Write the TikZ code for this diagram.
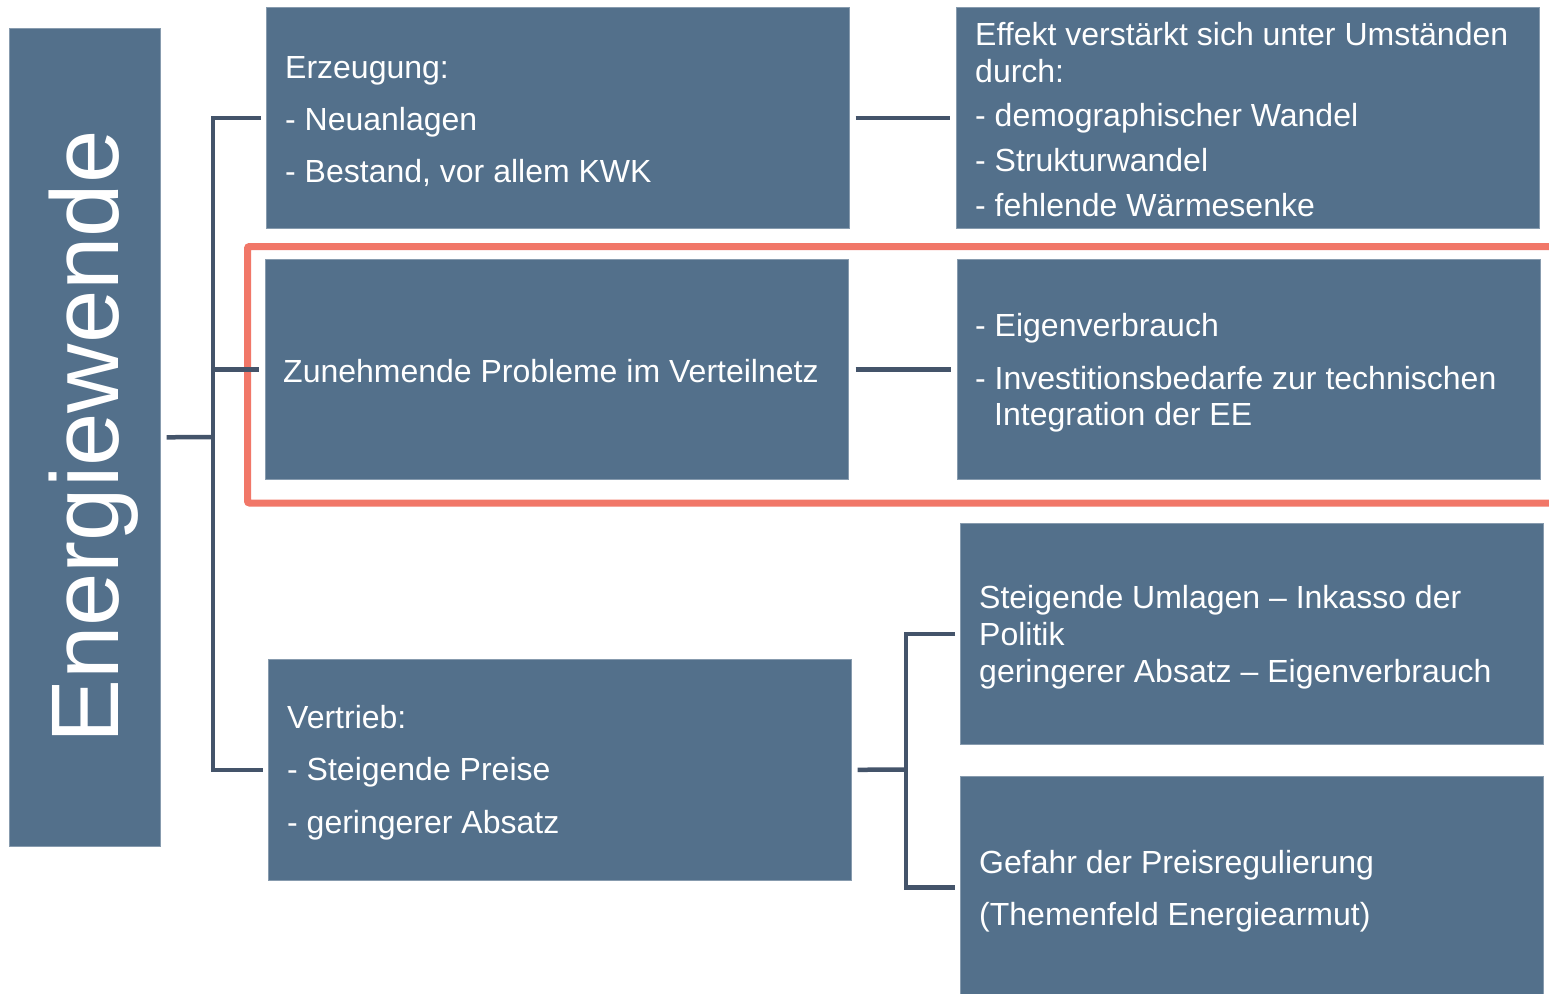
\documentclass[tikz,border=0pt]{standalone}
\usepackage{fontspec}
\setmainfont{Liberation Sans}
\definecolor{boxc}{RGB}{83,112,139}
\definecolor{linec}{RGB}{68,84,106}
\definecolor{redc}{RGB}{241,119,104}
\tikzset{
  box/.style={fill=boxc, draw=boxc!70!white, line width=0.6pt, inner sep=0pt, anchor=north west},
  txt/.style={anchor=base west, inner sep=0pt, text=white, font=\fontsize{32}{37}\selectfont},
  conn/.style={draw=linec, line width=4.5pt, line join=miter},
}
\begin{document}
\begin{tikzpicture}[x=1pt,y=-1pt]
\useasboundingbox (0,0) rectangle (1549,993);
\clip (0,0) rectangle (1549,993);
\fill[white] (0,0) rectangle (1549,993);

% boxes
\node[box, minimum width=151pt, minimum height=818pt] (ew) at (9,28) {};
\node[box, minimum width=583pt, minimum height=221pt] (erz) at (266,7) {};
\node[box, minimum width=583pt, minimum height=221pt] (eff) at (956,7) {};
\node[box, minimum width=583pt, minimum height=220pt] (zun) at (265,259) {};
\node[box, minimum width=583pt, minimum height=220pt] (eig) at (957,259) {};
\node[box, minimum width=583pt, minimum height=221pt] (ver) at (268,659) {};
\node[box, minimum width=583pt, minimum height=221pt] (umx) at (960,523) {};
\node[box, minimum width=583pt, minimum height=222pt] (gef) at (960,776) {};

% red frame
\draw[redc, line width=7pt, rounded corners=2pt] (1570,246.5) -- (247.5,246.5) -- (247.5,503) -- (1570,503);

% title
\node[rotate=90, anchor=base, inner sep=0pt, text=white, font=\fontsize{96}{96}\selectfont] (ewt) at (118.5,437) {Energiewende};

% texts
\node[txt] (t1) at (285,78) {Erzeugung:};
\node[txt] (t2) at (285,130) {- Neuanlagen};
\node[txt] (t3) at (285,182) {- Bestand, vor allem KWK};

\node[txt] (t4) at (975,45) {Effekt verstärkt sich unter Umständen};
\node[txt] (t5) at (975,82) {durch:};
\node[txt] (t6) at (975,126) {- demographischer Wandel};
\node[txt] (t7) at (975,171) {- Strukturwandel};
\node[txt] (t8) at (975,216) {- fehlende Wärmesenke};

\node[txt] (t9) at (283,382) {Zunehmende Probleme im Verteilnetz};

\node[txt] (t10) at (975,336) {- Eigenverbrauch};
\node[txt] (t11) at (975,389) {- Investitionsbedarfe zur technischen};
\node[txt] (t12) at (994,425) {Integration der EE};

\node[txt] (t13) at (287,728) {Vertrieb:};
\node[txt] (t14) at (287,780) {- Steigende Preise};
\node[txt] (t15) at (287,833) {- geringerer Absatz};

\node[txt] (t16) at (979,608) {Steigende Umlagen – Inkasso der};
\node[txt] (t17) at (979,645) {Politik};
\node[txt] (t18) at (979,682) {geringerer Absatz – Eigenverbrauch};

\node[txt] (t19) at (979,873) {Gefahr der Preisregulierung};
\node[txt] (t20) at (979,925) {(Themenfeld Energiearmut)};

% connectors
\coordinate (tr) at (213,437);
\coordinate (tr2) at (906,769.5);
\draw[conn] ([xshift=6pt]ew.east) -- (tr);
\draw[conn] ([xshift=-5pt]erz.west) -| (tr) |- ([xshift=-5pt]ver.west);
\draw[conn] (tr |- zun.west) -- ([xshift=-6pt]zun.west);
\draw[conn] ([xshift=6pt]erz.east) -- ([xshift=-6pt]eff.west);
\draw[conn] ([xshift=7pt]zun.east) -- ([xshift=-6pt]eig.west);
\draw[conn] ([xshift=6pt]ver.east) -- (tr2);
\draw[conn] ([xshift=-5pt]umx.west) -| (tr2) |- ([xshift=-5pt]gef.west);
\end{tikzpicture}
\end{document}
